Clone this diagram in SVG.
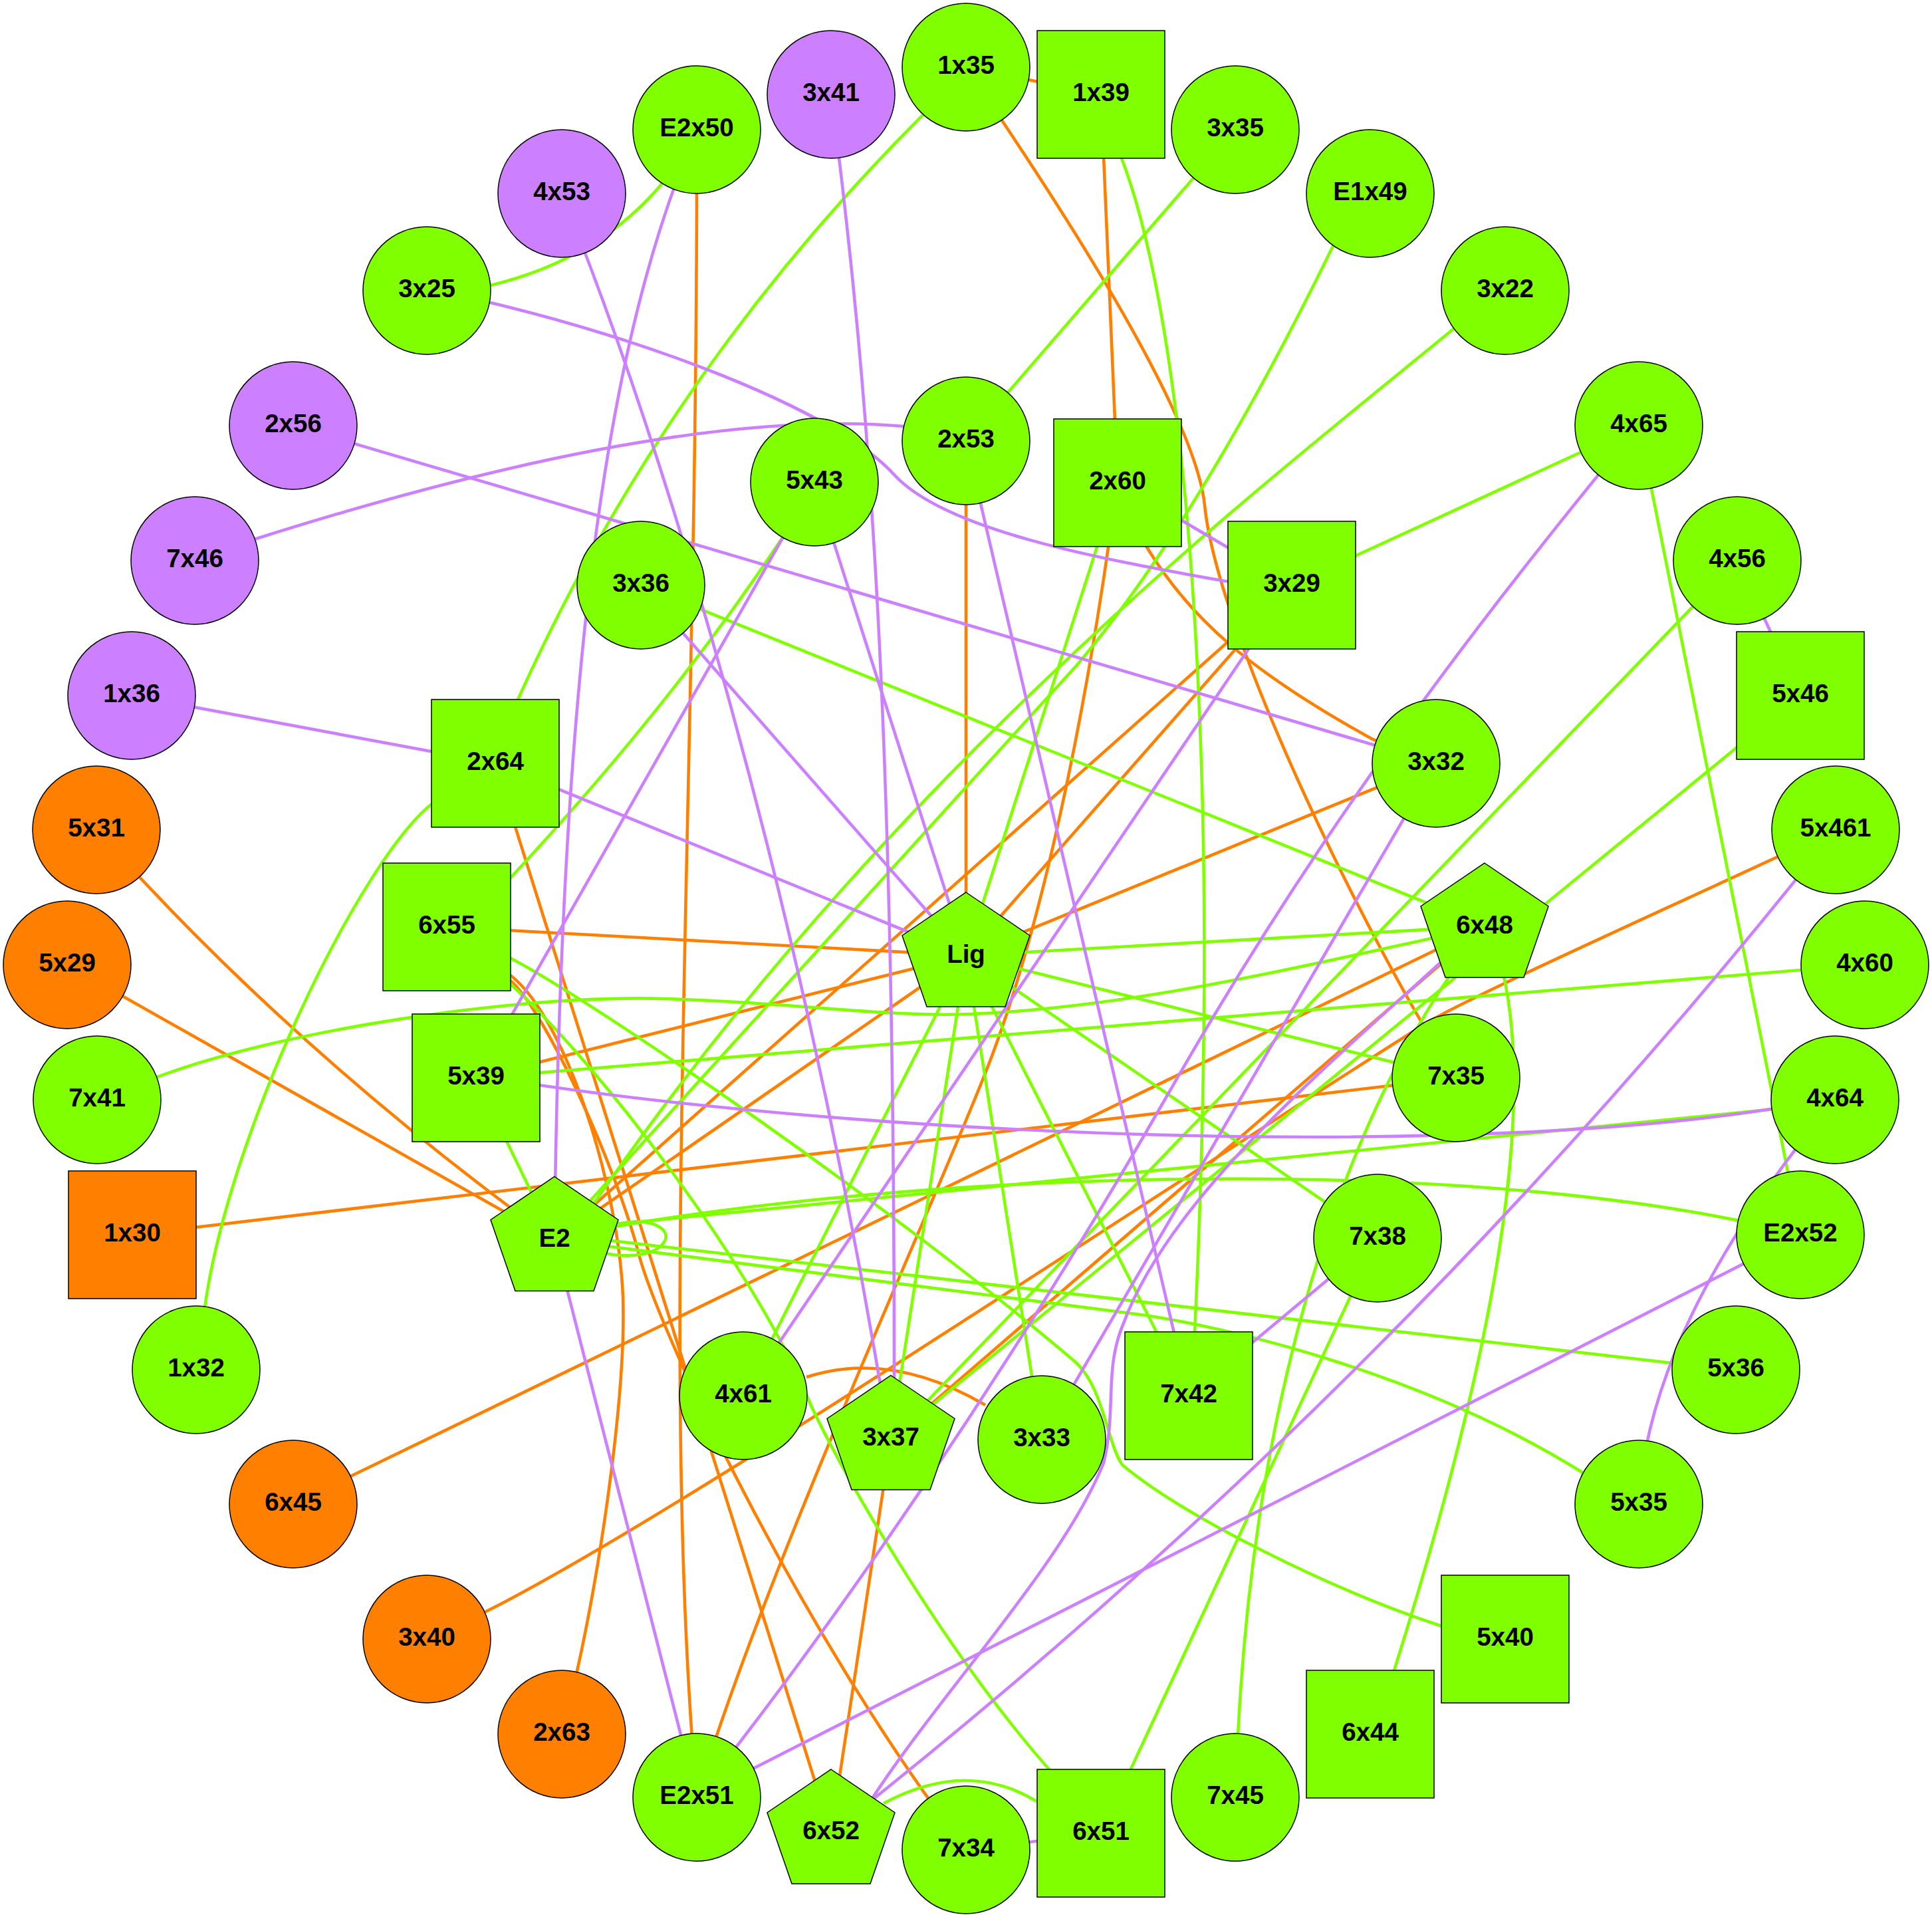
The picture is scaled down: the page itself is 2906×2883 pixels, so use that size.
<svg xmlns="http://www.w3.org/2000/svg" width="2906" height="2883" viewBox="0 0 2906 2883">
<style>
#edges path{fill:none;stroke-width:4.6}
.g{stroke:#80FF00}.p{stroke:#CC80FF}.o{stroke:#FF8000}
.nd circle,.nd rect,.nd use{stroke:#000;stroke-width:1.5}
.fg{fill:#80FF00}.fp{fill:#CC80FF}.fo{fill:#FF8000}
text{font-family:"Liberation Sans",Arial,sans-serif;font-weight:bold;font-size:38.5px;text-anchor:middle;fill:#000}
</style>
<defs>
<polygon id="pent" points="0,-95.5 96,-30.5 59,76.5 -59,76.5 -96,-30.5"/>
</defs>
<rect width="2906" height="2883" fill="#fff"/>
<g id="edges">
<path class="o" d="M1453,101 L1656,142"/>
<path class="o" d="M1453,101 C1560,258 1797,610 1812,760 C1832,960 2070,1441 2190,1621"/>
<path class="o" d="M1656,142 L1681,726"/>
<path class="o" d="M1681,726 L1725,823 C1790,930 1880,1010 2065,1112 L2160,1148"/>
<path class="o" d="M1681,726 L1667,823 C1630,1080 1570,1380 1492,1588 C1430,1755 1200,2250 1078,2610 L1048,2703"/>
<path class="o" d="M1453,663 L1453,1437"/>
<path class="o" d="M672,1394 L1453,1437"/>
<path class="o" d="M716,1621 L1453,1437"/>
<path class="o" d="M834,1865 L1453,1437"/>
<path class="o" d="M1453,1437 L1943,880"/>
<path class="o" d="M1453,1437 L2160,1148"/>
<path class="o" d="M834,1865 L1943,880"/>
<path class="o" d="M1048,195 C1050,1200 990,2050 1048,2703"/>
<path class="o" d="M145,1248 Q440,1580 834,1865"/>
<path class="o" d="M101,1451 L834,1865"/>
<path class="o" d="M199,1857 L2190,1621"/>
<path class="o" d="M745,1148 L1250,2756"/>
<path class="o" d="M672,1394 L768,1467 C850,1530 930,1780 937,1950 C942,2100 900,2400 845,2608"/>
<path class="o" d="M672,1394 L768,1475 C820,1520 925,1750 960,1883 C990,2000 1200,2450 1453,2782"/>
<path class="o" d="M1213,2071 Q1340,2030 1482,2113"/>
<path class="o" d="M1250,2756 L1340,2164"/>
<path class="o" d="M642,2465 L730,2424 C1000,2290 1700,1820 2148,1537 C2230,1490 2500,1370 2761,1248"/>
<path class="o" d="M2233,1393 L1340,2164"/>
<path class="o" d="M441,2262 L2233,1393"/>
<path class="g" d="M642,437 L738,429 Q900,390 995,277 L1048,195"/>
<path class="g" d="M1453,101 L1389,172 Q1000,560 779,1052 L745,1148"/>
<path class="g" d="M1858,195 L1453,663"/>
<path class="g" d="M1656,142 L1687,238 C1780,480 1840,1100 1797,2003 L1788,2099"/>
<path class="g" d="M2061,291 L2024,331 Q1810,776 1620,1000 L834,1865"/>
<path class="g" d="M2264,437 L2187,494 C1900,730 1350,1150 896,1806 L834,1865"/>
<path class="g" d="M2465,640 L1943,880"/>
<path class="g" d="M2465,640 L2708,1857"/>
<path class="g" d="M2613,843 L1340,2164"/>
<path class="g" d="M2708,1046 L1340,2164"/>
<path class="g" d="M672,1394 L768,1320 Q1010,1060 1176,810 L1225,725"/>
<path class="g" d="M745,1148 L647,1211 C540,1300 345,1700 308,1966 L295,2060"/>
<path class="g" d="M964,880 L2233,1393"/>
<path class="g" d="M1453,1437 L2233,1393"/>
<path class="g" d="M1453,1437 L2190,1621"/>
<path class="g" d="M1453,1437 L2072,1862"/>
<path class="g" d="M1453,1437 L1788,2099"/>
<path class="g" d="M1453,1437 L1567,2165"/>
<path class="g" d="M1453,1437 L1118,2099"/>
<path class="g" d="M1453,1437 L1340,2164"/>
<path class="g" d="M1681,726 L1453,1437"/>
<path class="g" d="M716,1621 L834,1865"/>
<path class="g" d="M716,1621 L2805,1451"/>
<path class="g" d="M146,1654 L236,1620 C420,1550 780,1495 1000,1502 C1200,1508 1330,1530 1460,1525 C1700,1515 1950,1455 2154,1411 L2233,1393"/>
<path class="g" d="M915,1845 C975,1825 1010,1848 1000,1866 C990,1886 950,1893 912,1885"/>
<path class="g" d="M834,1850 L2760,1659"/>
<path class="g" d="M834,1862 C1300,1765 2200,1725 2708,1857"/>
<path class="g" d="M834,1856 L2611,2061"/>
<path class="g" d="M834,1864 L1700,1975 C1850,1994 2150,2070 2381,2215 L2465,2262"/>
<path class="g" d="M672,1394 L768,1480 C900,1600 1130,1900 1214,2100 C1250,2186 1410,2470 1578,2661 L1656,2757"/>
<path class="g" d="M672,1394 L768,1441 C900,1510 1350,1820 1616,2047 C1660,2085 1665,2170 1688,2203 C1780,2280 2000,2390 2167,2445 L2264,2465"/>
<path class="g" d="M2233,1393 L2255,1440 C2300,1600 2290,1900 2097,2512 L2061,2608"/>
<path class="g" d="M2233,1393 L2200,1440 C2040,1660 1890,2050 1862,2610 L1858,2703"/>
<path class="g" d="M2072,1862 L1656,2757"/>
<path class="g" d="M1329,2712 Q1454,2645 1559,2709"/>
<path class="p" d="M642,437 L737,455 C950,505 1250,610 1345,714 C1421,797 1650,840 1843,874 L1943,880"/>
<path class="p" d="M293,843 L386,810 Q1012,612 1358,641 L1453,663"/>
<path class="p" d="M441,640 L2160,1148"/>
<path class="p" d="M198,1046 L745,1148"/>
<path class="p" d="M1681,726 L1943,880"/>
<path class="p" d="M845,291 C1010,700 1200,1350 1322,2070 L1340,2164"/>
<path class="p" d="M1250,142 C1310,600 1345,1100 1345,2070 L1340,2164"/>
<path class="p" d="M1048,195 C940,450 845,850 834,1865"/>
<path class="p" d="M834,1865 L1048,2703"/>
<path class="p" d="M1225,725 L1453,1437"/>
<path class="p" d="M964,880 L1453,1437"/>
<path class="p" d="M745,1148 L1453,1437"/>
<path class="p" d="M1453,663 L1788,2099"/>
<path class="p" d="M716,1621 L1225,725"/>
<path class="p" d="M716,1617 C1300,1715 2300,1750 2760,1650"/>
<path class="p" d="M1943,880 L1118,2099"/>
<path class="p" d="M2465,640 C2250,900 2000,1220 1760,1640 C1520,2060 1250,2450 1048,2703"/>
<path class="p" d="M2160,1148 L1567,2165"/>
<path class="p" d="M2233,1393 L2164,1450 C2000,1600 1760,1800 1690,1990 C1660,2060 1680,2120 1660,2200 C1600,2350 1420,2540 1313,2703 L1250,2756"/>
<path class="p" d="M2761,1248 Q2095,2092 1250,2756"/>
<path class="p" d="M2072,1862 L1788,2099"/>
<path class="p" d="M1453,2782 L1656,2757"/>
<path class="p" d="M2708,1857 L1048,2703"/>
<path class="p" d="M2760,1654 Q2480,1990 2465,2262"/>
<path class="p" d="M2613,843 L2708,1046"/>
</g>
<g id="nodes" class="nd">
<g id="n-1x35"><circle class="fg" cx="1453" cy="101" r="96"/><text x="1453" y="111">1x35</text></g>
<g id="n-1x39"><rect class="fg" x="1560" y="46" width="192" height="192"/><text x="1656" y="152">1x39</text></g>
<g id="n-3x35"><circle class="fg" cx="1858" cy="195" r="96"/><text x="1858" y="205">3x35</text></g>
<g id="n-E1x49"><circle class="fg" cx="2061" cy="291" r="96"/><text x="2061" y="301">E1x49</text></g>
<g id="n-3x22"><circle class="fg" cx="2264" cy="437" r="96"/><text x="2264" y="447">3x22</text></g>
<g id="n-4x65"><circle class="fg" cx="2465" cy="640" r="96"/><text x="2465" y="650">4x65</text></g>
<g id="n-4x56"><circle class="fg" cx="2613" cy="843" r="96"/><text x="2613" y="853">4x56</text></g>
<g id="n-5x46"><rect class="fg" x="2612" y="950" width="192" height="192"/><text x="2708" y="1056">5x46</text></g>
<g id="n-5x461"><circle class="fg" cx="2761" cy="1248" r="96"/><text x="2761" y="1258">5x461</text></g>
<g id="n-4x60"><circle class="fg" cx="2805" cy="1451" r="96"/><text x="2805" y="1461">4x60</text></g>
<g id="n-4x64"><circle class="fg" cx="2760" cy="1654" r="96"/><text x="2760" y="1664">4x64</text></g>
<g id="n-E2x52"><circle class="fg" cx="2708" cy="1857" r="96"/><text x="2708" y="1867">E2x52</text></g>
<g id="n-5x36"><circle class="fg" cx="2611" cy="2060" r="96"/><text x="2611" y="2070">5x36</text></g>
<g id="n-5x35"><circle class="fg" cx="2465" cy="2262" r="96"/><text x="2465" y="2272">5x35</text></g>
<g id="n-5x40"><rect class="fg" x="2168" y="2369" width="192" height="192"/><text x="2264" y="2475">5x40</text></g>
<g id="n-6x44"><rect class="fg" x="1965" y="2512" width="192" height="192"/><text x="2061" y="2618">6x44</text></g>
<g id="n-7x45"><circle class="fg" cx="1858" cy="2703" r="96"/><text x="1858" y="2713">7x45</text></g>
<g id="n-6x51"><rect class="fg" x="1560" y="2661" width="192" height="192"/><text x="1656" y="2767">6x51</text></g>
<g id="n-7x34"><circle class="fg" cx="1453" cy="2782" r="96"/><text x="1453" y="2792">7x34</text></g>
<g id="n-6x52"><use href="#pent" class="fg" x="1250" y="2756.5"/><text x="1250" y="2766">6x52</text></g>
<g id="n-E2x51"><circle class="fg" cx="1048" cy="2703" r="96"/><text x="1048" y="2713">E2x51</text></g>
<g id="n-2x63"><circle class="fo" cx="845" cy="2608" r="96"/><text x="845" y="2618">2x63</text></g>
<g id="n-3x40"><circle class="fo" cx="642" cy="2465" r="96"/><text x="642" y="2475">3x40</text></g>
<g id="n-6x45"><circle class="fo" cx="441" cy="2262" r="96"/><text x="441" y="2272">6x45</text></g>
<g id="n-1x32"><circle class="fg" cx="295" cy="2060" r="96"/><text x="295" y="2070">1x32</text></g>
<g id="n-1x30"><rect class="fo" x="103" y="1761" width="192" height="192"/><text x="199" y="1867">1x30</text></g>
<g id="n-7x41"><circle class="fg" cx="146" cy="1654" r="96"/><text x="146" y="1664">7x41</text></g>
<g id="n-5x29"><circle class="fo" cx="101" cy="1451" r="96"/><text x="101" y="1461">5x29</text></g>
<g id="n-5x31"><circle class="fo" cx="145" cy="1248" r="96"/><text x="145" y="1258">5x31</text></g>
<g id="n-1x36"><circle class="fp" cx="198" cy="1046" r="96"/><text x="198" y="1056">1x36</text></g>
<g id="n-7x46"><circle class="fp" cx="293" cy="843" r="96"/><text x="293" y="853">7x46</text></g>
<g id="n-2x56"><circle class="fp" cx="441" cy="640" r="96"/><text x="441" y="650">2x56</text></g>
<g id="n-3x25"><circle class="fg" cx="642" cy="437" r="96"/><text x="642" y="447">3x25</text></g>
<g id="n-4x53"><circle class="fp" cx="845" cy="291" r="96"/><text x="845" y="301">4x53</text></g>
<g id="n-E2x50"><circle class="fg" cx="1048" cy="195" r="96"/><text x="1048" y="205">E2x50</text></g>
<g id="n-3x41"><circle class="fp" cx="1250" cy="142" r="96"/><text x="1250" y="152">3x41</text></g>
<g id="n-2x53"><circle class="fg" cx="1453" cy="663" r="96"/><text x="1453" y="673">2x53</text></g>
<g id="n-5x43"><circle class="fg" cx="1225" cy="725" r="96"/><text x="1225" y="735">5x43</text></g>
<g id="n-2x60"><rect class="fg" x="1585" y="630" width="192" height="192"/><text x="1681" y="736">2x60</text></g>
<g id="n-3x36"><circle class="fg" cx="964" cy="880" r="96"/><text x="964" y="890">3x36</text></g>
<g id="n-3x29"><rect class="fg" x="1847" y="784" width="192" height="192"/><text x="1943" y="890">3x29</text></g>
<g id="n-2x64"><rect class="fg" x="649" y="1052" width="192" height="192"/><text x="745" y="1158">2x64</text></g>
<g id="n-3x32"><circle class="fg" cx="2160" cy="1148" r="96"/><text x="2160" y="1158">3x32</text></g>
<g id="n-6x55"><rect class="fg" x="576" y="1298" width="192" height="192"/><text x="672" y="1404">6x55</text></g>
<g id="n-Lig"><use href="#pent" class="fg" x="1453" y="1437.5"/><text x="1453" y="1447.5">Lig</text></g>
<g id="n-6x48"><use href="#pent" class="fg" x="2233" y="1393.5"/><text x="2233" y="1403.5">6x48</text></g>
<g id="n-5x39"><rect class="fg" x="620" y="1525" width="192" height="192"/><text x="716" y="1631">5x39</text></g>
<g id="n-7x35"><circle class="fg" cx="2190" cy="1621" r="96"/><text x="2190" y="1631">7x35</text></g>
<g id="n-E2"><use href="#pent" class="fg" x="834" y="1865"/><text x="834" y="1875">E2</text></g>
<g id="n-7x38"><circle class="fg" cx="2072" cy="1862" r="96"/><text x="2072" y="1872">7x38</text></g>
<g id="n-4x61"><circle class="fg" cx="1118" cy="2099" r="96"/><text x="1118" y="2109">4x61</text></g>
<g id="n-3x37"><use href="#pent" class="fg" x="1340" y="2164"/><text x="1340" y="2174">3x37</text></g>
<g id="n-3x33"><circle class="fg" cx="1567" cy="2165" r="96"/><text x="1567" y="2175">3x33</text></g>
<g id="n-7x42"><rect class="fg" x="1692" y="2003" width="192" height="192"/><text x="1788" y="2109">7x42</text></g>
</g>
</svg>
